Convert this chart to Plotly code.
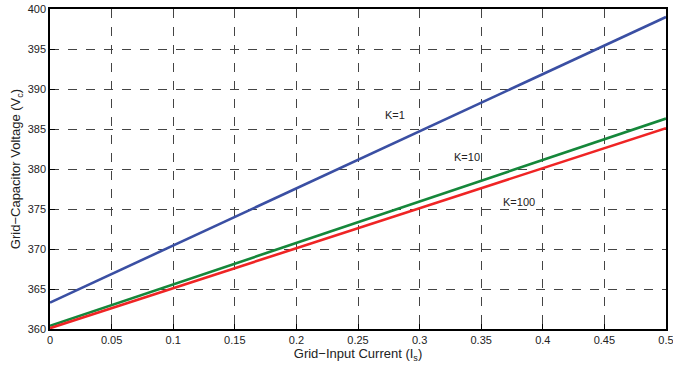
import plotly.graph_objects as go

current = [0.0, 0.5]
k1 = [363.3, 399.0]
k10 = [360.4, 386.3]
k100 = [360.1, 385.1]
x_ticks = [0, 0.05, 0.1, 0.15, 0.2, 0.25, 0.3, 0.35, 0.4, 0.45, 0.5]
x_tick_text = ["0", "0.05", "0.1", "0.15", "0.2", "0.25", "0.3", "0.35", "0.4", "0.45", "0.5"]
y_ticks = [360, 365, 370, 375, 380, 385, 390, 395, 400]
labels = ["K=1", "K=10", "K=100"]
label_x = [0.28, 0.3385, 0.3807]
label_y = [386.75, 381.5, 375.9]

fig = go.Figure()
for ys, col in [(k1, "#3a4fa3"), (k10, "#15873a"), (k100, "#ef2424")]:
    fig.add_trace(go.Scatter(x=current, y=ys, mode="lines",
                             line=dict(color=col, width=2.6), showlegend=False))

for t, xx, yy in zip(labels, label_x, label_y):
    fig.add_annotation(x=xx, y=yy, text=t, showarrow=False,
                       font=dict(size=11, color="#222"))

axis_common = dict(showline=True, linecolor="black", linewidth=1.5, mirror=True,
                   ticks="inside", ticklen=5, tickcolor="black",
                   showgrid=True, gridcolor="#444", griddash="dash", gridwidth=1,
                   zeroline=False, tickfont=dict(size=11, color="#222"),
                   automargin=False, ticklabeloverflow="allow")

fig.update_xaxes(range=[0, 0.5], tickvals=x_ticks, ticktext=x_tick_text,
                 title=dict(text="Grid\u2212Input Current (I<sub>s</sub>)",
                            font=dict(size=13, color="#222"), standoff=2),
                 **axis_common)
fig.update_yaxes(range=[360, 400], tickvals=y_ticks,
                 title=dict(text="Grid\u2212Capacitor Voltage (V<sub>c</sub>)",
                            font=dict(size=13, color="#222"), standoff=4),
                 **axis_common)

fig.update_layout(width=673, height=367, margin=dict(l=50, r=7, t=9, b=38),
                  plot_bgcolor="white", paper_bgcolor="white",
                  font=dict(family="Liberation Sans, Arial, sans-serif"))

fig.write_html("out.html")
